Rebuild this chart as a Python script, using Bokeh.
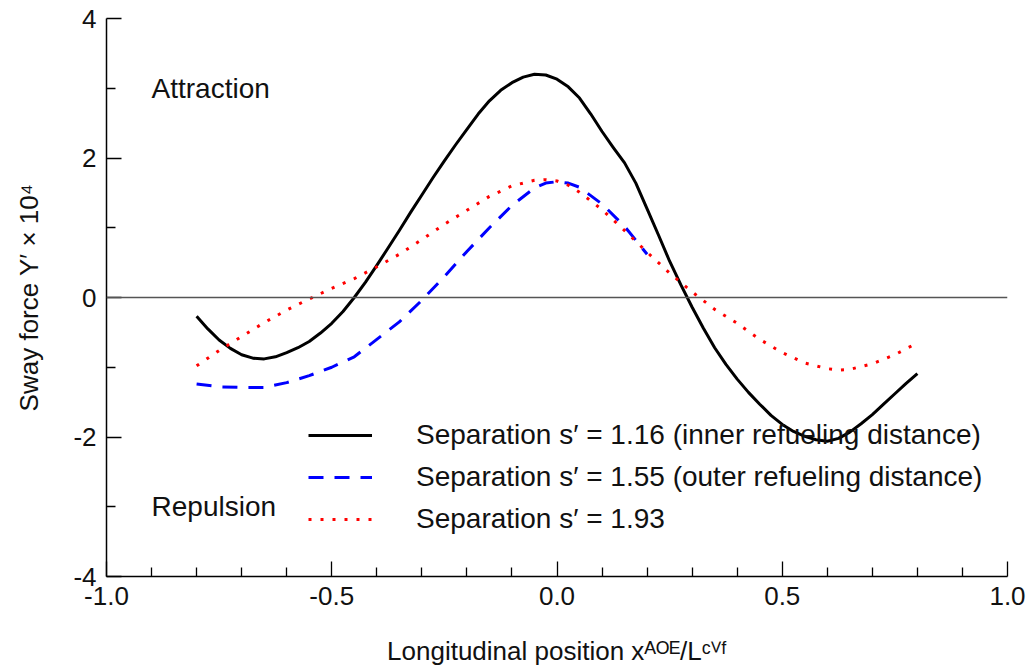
from bokeh.plotting import figure
from bokeh.models import (ColumnDataSource, Legend, LegendItem, Span, Label,
                          FixedTicker, PrintfTickFormatter)
from bokeh.embed import file_html
from bokeh.resources import INLINE

# ---- data ----
x_s116 = [-0.800, -0.775, -0.750, -0.725, -0.700, -0.675, -0.650, -0.625,
          -0.600, -0.575, -0.550, -0.525, -0.500, -0.475, -0.450, -0.425,
          -0.400, -0.375, -0.350, -0.325, -0.300, -0.275, -0.250, -0.225,
          -0.200, -0.175, -0.150, -0.125, -0.100, -0.075, -0.050, -0.025,
          0.000, 0.025, 0.050, 0.075, 0.100, 0.125, 0.150, 0.175,
          0.200, 0.225, 0.250, 0.275, 0.300, 0.325, 0.350, 0.375,
          0.400, 0.425, 0.450, 0.475, 0.500, 0.525, 0.550, 0.575,
          0.600, 0.625, 0.650, 0.675, 0.700, 0.725, 0.750, 0.775, 0.800]
y_s116 = [-0.27, -0.45, -0.61, -0.73, -0.82, -0.87, -0.88, -0.85,
          -0.79, -0.72, -0.63, -0.51, -0.37, -0.20, 0.00, 0.22,
          0.46, 0.71, 0.96, 1.22, 1.47, 1.72, 1.96, 2.19,
          2.41, 2.63, 2.82, 2.97, 3.08, 3.16, 3.20, 3.19,
          3.13, 3.02, 2.86, 2.63, 2.38, 2.15, 1.93, 1.64,
          1.27, 0.90, 0.52, 0.18, -0.14, -0.44, -0.72, -0.96,
          -1.17, -1.36, -1.53, -1.69, -1.82, -1.92, -1.99, -2.04,
          -2.06, -2.02, -1.93, -1.81, -1.68, -1.53, -1.38, -1.23, -1.09]

x_s155 = [-0.80, -0.75, -0.70, -0.65, -0.60, -0.55, -0.50, -0.45, -0.40, -0.35,
          -0.30, -0.25, -0.20, -0.15, -0.10, -0.05, -0.025, 0.00, 0.025, 0.05,
          0.10, 0.15, 0.20]
y_s155 = [-1.24, -1.28, -1.29, -1.29, -1.22, -1.12, -1.00, -0.85, -0.60, -0.35,
          -0.04, 0.30, 0.66, 1.00, 1.32, 1.57, 1.64, 1.66, 1.64, 1.58,
          1.34, 1.02, 0.62]

x_s193 = [-0.80, -0.75, -0.70, -0.65, -0.60, -0.55, -0.50, -0.45, -0.40, -0.35,
          -0.30, -0.25, -0.20, -0.15, -0.10, -0.05, -0.025, 0.00, 0.025, 0.05,
          0.10, 0.15, 0.20, 0.25, 0.30, 0.35, 0.40, 0.45, 0.50, 0.55,
          0.60, 0.625, 0.65, 0.70, 0.75, 0.80]
y_s193 = [-0.98, -0.76, -0.56, -0.36, -0.18, -0.02, 0.13, 0.27, 0.44, 0.62,
          0.83, 1.05, 1.25, 1.45, 1.60, 1.68, 1.69, 1.67, 1.61, 1.51,
          1.26, 0.96, 0.65, 0.35, 0.08, -0.17, -0.37, -0.60, -0.79, -0.94,
          -1.02, -1.04, -1.03, -0.95, -0.82, -0.65]

series_labels = [
    "Separation s\u2032 = 1.16 (inner refueling distance)",
    "Separation s\u2032 = 1.55 (outer refueling distance)",
    "Separation s\u2032 = 1.93",
]

x_major = [-1.0, -0.5, 0.0, 0.5, 1.0]
x_minor = [-0.9, -0.8, -0.7, -0.6, -0.4, -0.3, -0.2, -0.1,
           0.1, 0.2, 0.3, 0.4, 0.6, 0.7, 0.8, 0.9]
y_major = [-4, -2, 0, 2, 4]
y_minor = [-3, -1, 1, 3]

region_labels = ["Attraction", "Repulsion"]
region_x = [-0.9, -0.9]
region_y = [3.0, -3.0]

FONT = "Liberation Sans"

p = figure(width=1032, height=670, x_range=(-1.0, 1.0), y_range=(-4.0, 4.0),
           output_backend="svg", toolbar_location=None,
           min_border_left=106, min_border_right=25,
           min_border_top=18, min_border_bottom=94)

p.outline_line_color = None
p.xgrid.visible = False
p.ygrid.visible = False
p.background_fill_color = "white"
p.border_fill_color = "white"

# zero line
p.add_layout(Span(location=0, dimension="width", line_color="#555555",
                  line_width=1.5))

src1 = ColumnDataSource(dict(x=x_s116, y=y_s116))
src2 = ColumnDataSource(dict(x=x_s155, y=y_s155))
src3 = ColumnDataSource(dict(x=x_s193, y=y_s193))

r1 = p.line("x", "y", source=src1, line_color="black", line_width=3,
            line_join="round")
r2 = p.line("x", "y", source=src2, line_color="#0000ff", line_width=3,
            line_dash="15 11")
r3 = p.line("x", "y", source=src3, line_color="#ff0000", line_width=3,
            line_dash="3 9")

# axes
for ax in (p.xaxis[0], p.yaxis[0]):
    ax.axis_line_color = "black"
    ax.axis_line_width = 1.5
    ax.major_tick_line_color = "black"
    ax.minor_tick_line_color = "black"
    ax.major_tick_line_width = 1.3
    ax.minor_tick_line_width = 1.3
    ax.major_tick_in = 15
    ax.major_tick_out = 0
    ax.minor_tick_in = 9
    ax.minor_tick_out = 0
    ax.major_label_text_font = FONT
    ax.major_label_text_font_size = "26px"
    ax.major_label_text_color = "#111111"
    ax.axis_label_text_font = FONT
    ax.axis_label_text_font_size = "26px"
    ax.axis_label_text_font_style = "normal"
    ax.axis_label_text_color = "#111111"
    ax.major_label_standoff = 10

p.xaxis.ticker = FixedTicker(ticks=x_major, minor_ticks=x_minor)
p.yaxis.ticker = FixedTicker(ticks=y_major, minor_ticks=y_minor)
p.xaxis.formatter = PrintfTickFormatter(format="%.1f")
p.yaxis.formatter = PrintfTickFormatter(format="%d")

p.xaxis.axis_label = "Longitudinal position x\u1d2c\u1d3c\u1d31/L\u1d9c\u2c7d\u1da0"
p.yaxis.axis_label = "Sway force Y\u2032 \u00d7 10\u2074"
p.xaxis.axis_label_standoff = 28
p.yaxis.axis_label_standoff = 26

# region annotations
for t, xx, yy in zip(region_labels, region_x, region_y):
    p.add_layout(Label(x=xx, y=yy, text=t, text_font=FONT,
                       text_font_size="28px", text_color="#111111",
                       text_align="left", text_baseline="middle"))

legend = Legend(items=[LegendItem(label=series_labels[0], renderers=[r1]),
                       LegendItem(label=series_labels[1], renderers=[r2]),
                       LegendItem(label=series_labels[2], renderers=[r3])],
                location=(202, 41), orientation="vertical",
                border_line_color=None, background_fill_alpha=0.0,
                padding=0, margin=0, spacing=10,
                glyph_width=64, glyph_height=32, label_height=32,
                label_standoff=44,
                label_text_font=FONT, label_text_font_size="28px",
                label_text_color="#111111")
p.add_layout(legend, "center")

open("out.html", "w").write(file_html(p, INLINE))
